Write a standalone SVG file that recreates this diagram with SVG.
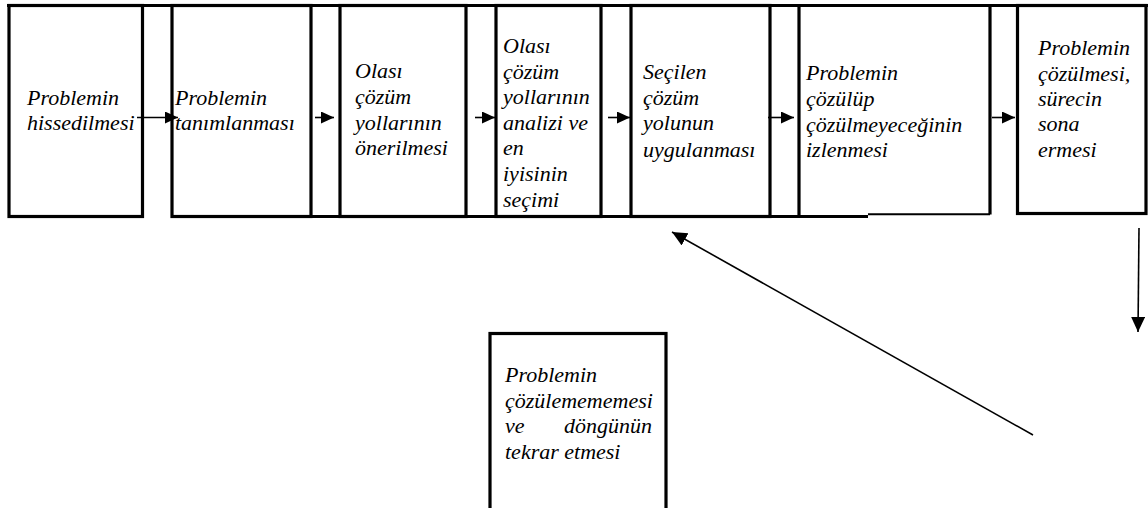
<svg xmlns="http://www.w3.org/2000/svg" width="1148" height="508" viewBox="0 0 1148 508">
<style>
.box{fill:none;stroke:#000;stroke-width:3.2}
.ln{fill:none;stroke:#000;stroke-width:3.2}
.t{font-family:"Liberation Serif","Times New Roman","DejaVu Serif",serif;font-style:italic;font-size:22px;fill:#000}
.c{fill:none;stroke:#000;stroke-width:1.6}
</style>
<defs>
<marker id="ah" markerUnits="userSpaceOnUse" markerWidth="14" markerHeight="14" refX="13" refY="6" orient="auto"><path d="M0,0 L13,6 L0,12 z" fill="#000"/></marker>
<marker id="ah2" markerUnits="userSpaceOnUse" markerWidth="16" markerHeight="16" refX="15" refY="7" orient="auto"><path d="M0,0 L15,7 L0,14 z" fill="#000"/></marker>
</defs>
<rect width="1148" height="508" fill="#fff"/>
<g id="frame">
<line class="ln" x1="7" y1="5.5" x2="1148" y2="5.5"/>
<line class="ln" x1="171" y1="216.5" x2="868" y2="216.5"/>
</g>
<g id="n1">
<rect class="box" x="9" y="5.5" width="133.5" height="211"/>
<text class="t" font-family="Liberation Serif, serif" font-style="italic"><tspan x="27" y="105">Problemin</tspan><tspan x="27" y="130">hissedilmesi</tspan></text>
</g>
<g id="n2">
<rect class="box" x="172" y="5.5" width="139" height="211"/>
<text class="t" font-family="Liberation Serif, serif" font-style="italic"><tspan x="175" y="105">Problemin</tspan><tspan x="175" y="130">tanımlanması</tspan></text>
</g>
<g id="n3">
<rect class="box" x="340" y="5.5" width="126" height="211"/>
<text class="t" font-family="Liberation Serif, serif" font-style="italic"><tspan x="355" y="78">Olası</tspan><tspan x="355" y="104">çözüm</tspan><tspan x="355" y="130">yollarının</tspan><tspan x="355" y="155">önerilmesi</tspan></text>
</g>
<g id="n4">
<rect class="box" x="496" y="5.5" width="105" height="211"/>
<text class="t" font-family="Liberation Serif, serif" font-style="italic"><tspan x="503" y="53">Olası</tspan><tspan x="503" y="79">çözüm</tspan><tspan x="503" y="104">yollarının</tspan><tspan x="503" y="130">analizi ve</tspan><tspan x="503" y="155">en</tspan><tspan x="503" y="181">iyisinin</tspan><tspan x="503" y="207">seçimi</tspan></text>
</g>
<g id="n5">
<rect class="box" x="631" y="5.5" width="139" height="211"/>
<text class="t" font-family="Liberation Serif, serif" font-style="italic"><tspan x="643" y="79">Seçilen</tspan><tspan x="643" y="105">çözüm</tspan><tspan x="643" y="130">yolunun</tspan><tspan x="643" y="157">uygulanması</tspan></text>
</g>
<g id="n6">
<path class="box" d="M799,216.5 V5.5 H990 V214.5"/>
<line class="ln" x1="799" y1="216.5" x2="868" y2="216.5"/>
<line stroke="#000" stroke-width="2" x1="868" y1="214.3" x2="990" y2="214.3"/>
<text class="t" font-family="Liberation Serif, serif" font-style="italic"><tspan x="806" y="80">Problemin</tspan><tspan x="806" y="106">çözülüp</tspan><tspan x="806" y="132">çözülmeyeceğinin</tspan><tspan x="806" y="157">izlenmesi</tspan></text>
</g>
<g id="n7">
<rect class="box" x="1017.5" y="5.5" width="128.5" height="208"/>
<text class="t" font-family="Liberation Serif, serif" font-style="italic"><tspan x="1038" y="55">Problemin</tspan><tspan x="1038" y="81">çözülmesi,</tspan><tspan x="1038" y="106">sürecin</tspan><tspan x="1038" y="131">sona</tspan><tspan x="1038" y="157">ermesi</tspan></text>
</g>
<g id="n8">
<rect class="box" x="490" y="333.5" width="176" height="185"/>
<text class="t" font-family="Liberation Serif, serif" font-style="italic"><tspan x="505" y="382">Problemin</tspan><tspan x="505" y="408">çözülemememesi</tspan><tspan x="505" y="433">ve</tspan><tspan x="564" y="433">döngünün</tspan><tspan x="505" y="459">tekrar etmesi</tspan></text>
</g>
<g id="connectors">
<line class="c" x1="137" y1="117.5" x2="178" y2="117.5" marker-end="url(#ah)"/>
<line class="c" x1="315" y1="117.5" x2="334" y2="117.5" marker-end="url(#ah)"/>
<line class="c" x1="475" y1="117.5" x2="495" y2="117.5" marker-end="url(#ah)"/>
<line class="c" x1="608" y1="117.5" x2="630" y2="117.5" marker-end="url(#ah)"/>
<line class="c" x1="768" y1="117.5" x2="794" y2="117.5" marker-end="url(#ah)"/>
<line class="c" x1="992" y1="117.5" x2="1015" y2="117.5" marker-end="url(#ah)"/>
<line class="c" x1="1033" y1="435" x2="672" y2="232" marker-end="url(#ah2)"/>
<line class="c" x1="1139" y1="228" x2="1138" y2="332" marker-end="url(#ah2)"/>
</g>
</svg>
